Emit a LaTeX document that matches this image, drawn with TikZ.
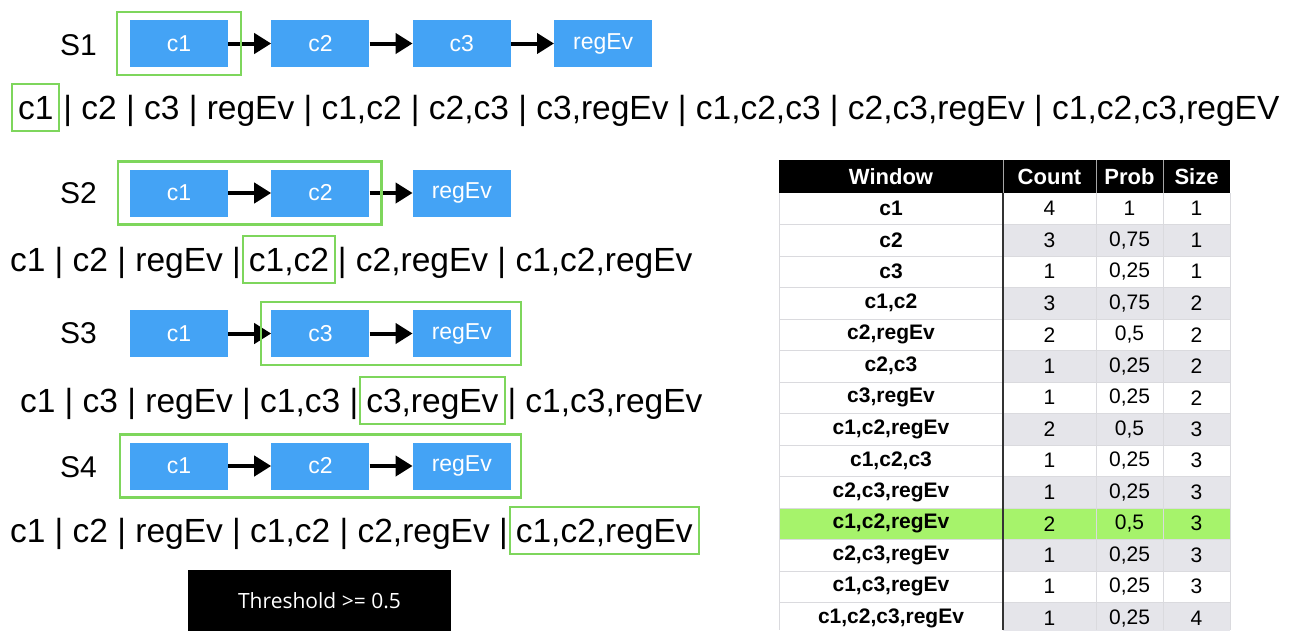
\documentclass[tikz,border=0pt]{standalone}
\usepackage{fontspec}
\setmainfont{Liberation Sans}
\newfontfamily\thrfont{Open Sans}
\usetikzlibrary{positioning,fit,arrows.meta}

\definecolor{evblue}{RGB}{68,163,245}
\definecolor{wingreen}{RGB}{126,214,92}
\definecolor{hitgreen}{RGB}{166,243,107}
\definecolor{rowgray}{RGB}{229,229,234}
\definecolor{gridgray}{RGB}{218,218,222}

\tikzset{
  evbox/.style={fill=evblue, text=white, minimum width=98pt, minimum height=47pt,
    inner sep=0pt, font=\fontsize{23}{27}\selectfont},
  nextev/.style={-{Triangle[length=17pt,width=20pt]}, line width=4pt},
  winframe/.style={draw=wingreen, line width=2.5pt, inner xsep=10pt, inner ysep=8pt},
  seqname/.style={font=\fontsize{30}{34}\selectfont, anchor=west, inner sep=0pt},
  wintext/.style={font=\fontsize{33.5}{40}\selectfont, inner sep=0pt, outer sep=0pt,
    text height=24pt, text depth=0pt},
  winhl/.style={wintext, draw=wingreen, line width=2pt, inner xsep=6pt, inner ysep=11.5pt},
  headcell/.style={text=white, font=\fontsize{22}{26}\selectfont\bfseries},
  cell/.style={font=\fontsize{21}{25}\selectfont}
}

\begin{document}
\begin{tikzpicture}[x=1pt, y=-1pt]
  \useasboundingbox (0,0) rectangle (1296,630);

  % sequence S1
  \node[seqname] (s1) at (60,45) {S1};
  \node[evbox] (s1c1) at (179,43.5) {c1};
  \node[evbox, right=43pt of s1c1] (s1c2) {c2};
  \node[evbox, right=43pt of s1c2] (s1c3) {c3};
  \node[evbox, right=43pt of s1c3] (s1ev) {regEv};
  \draw[nextev] (s1c1) -- (s1c2);
  \draw[nextev] (s1c2) -- (s1c3);
  \draw[nextev] (s1c3) -- (s1ev);
  \node[winframe, inner xsep=13pt, fit=(s1c1)] (s1w) {};

  \node[winhl, anchor=west] (r1a) at (12,107.5) {c1};
  \node[wintext, right=4pt of r1a] (r1b) {| c2 | c3 | regEv | c1,c2 | c2,c3 | c3,regEv | c1,c2,c3 | c2,c3,regEv | c1,c2,c3,regEV};

  % sequence S2
  \node[seqname] (s2) at (60,193) {S2};
  \node[evbox] (s2c1) at (179,193) {c1};
  \node[evbox, right=43pt of s2c1] (s2c2) {c2};
  \node[evbox, right=43pt of s2c2] (s2ev) {regEv};
  \draw[nextev] (s2c1) -- (s2c2);
  \draw[nextev] (s2c2) -- (s2ev);
  \node[winframe, inner xsep=12pt, fit=(s2c1)(s2c2)] (s2w) {};

  \node[wintext, anchor=west] (r2a) at (10,259.5) {c1 | c2 | regEv |};
  \node[winhl, right=2pt of r2a] (r2b) {c1,c2};
  \node[wintext, right=3pt of r2b] (r2c) {| c2,regEv | c1,c2,regEv};

  % sequence S3
  \node[seqname] (s3) at (60,333) {S3};
  \node[evbox] (s3c1) at (179,333.5) {c1};
  \node[evbox, right=43pt of s3c1] (s3c3) {c3};
  \node[evbox, right=43pt of s3c3] (s3ev) {regEv};
  \draw[nextev] (s3c1) -- (s3c3);
  \draw[nextev] (s3c3) -- (s3ev);
  \node[winframe, fit=(s3c3)(s3ev)] (s3w) {};

  \node[wintext, anchor=west] (r3a) at (20,400.5) {c1 | c3 | regEv | c1,c3 |};
  \node[winhl, right=2pt of r3a] (r3b) {c3,regEv};
  \node[wintext, right=3pt of r3b] (r3c) {| c1,c3,regEv};

  % sequence S4
  \node[seqname] (s4) at (60,467) {S4};
  \node[evbox] (s4c1) at (179,466) {c1};
  \node[evbox, right=43pt of s4c1] (s4c2) {c2};
  \node[evbox, right=43pt of s4c2] (s4ev) {regEv};
  \draw[nextev] (s4c1) -- (s4c2);
  \draw[nextev] (s4c2) -- (s4ev);
  \node[winframe, fit=(s4c1)(s4ev)] (s4w) {};

  \node[wintext, anchor=west] (r4a) at (10,530.5) {c1 | c2 | regEv | c1,c2 | c2,regEv |};
  \node[winhl, right=2pt of r4a] (r4b) {c1,c2,regEv};

  % threshold
  \node[fill=black, text=white, minimum width=263pt, minimum height=62pt,
    font=\thrfont\fontsize{21}{25}\selectfont] (thr) at (319.5,601) {Threshold >= 0.5};

  % table of windows
  \fill[black] (779,160) rectangle (1230,193);
  \node[headcell] (hw) at (891,177) {Window};
  \node[headcell] (hc) at (1049.5,177) {Count};
  \node[headcell] (hp) at (1129.5,177) {Prob};
  \node[headcell] (hs) at (1196.5,177) {Size};
  \foreach \x in {1003,1096,1163}
    \draw[gray!70, line width=0.8pt] (\x,160) -- (\x,193);

  \fill[hitgreen] (779,508) rectangle (1230,539.5);
  \foreach \w/\c/\p/\s [count=\i] in {
      c1/4/1/1,
      c2/3/{0,75}/1,
      c3/1/{0,25}/1,
      {c1,c2}/3/{0,75}/2,
      {c2,regEv}/2/{0,5}/2,
      {c2,c3}/1/{0,25}/2,
      {c3,regEv}/1/{0,25}/2,
      {c1,c2,regEv}/2/{0,5}/3,
      {c1,c2,c3}/1/{0,25}/3,
      {c2,c3,regEv}/1/{0,25}/3,
      {c1,c2,regEv}/2/{0,5}/3,
      {c2,c3,regEv}/1/{0,25}/3,
      {c1,c3,regEv}/1/{0,25}/3,
      {c1,c2,c3,regEv}/1/{0,25}/4}{
    \pgfmathsetmacro{\ry}{193+(\i-0.5)*31.5}
    \ifodd\i\else
      \fill[rowgray] (1003,\ry-15.75) rectangle (1230,\ry+15.75);
    \fi
    \node[cell, font=\fontsize{21}{25}\selectfont\bfseries] (w\i) at (891,\ry) {\w};
    \node[cell] (n\i) at (1049.5,\ry) {\c};
    \node[cell] (p\i) at (1129.5,\ry) {\p};
    \node[cell] (z\i) at (1196.5,\ry) {\s};
  }
  \foreach \k in {1,...,13}
    \draw[gridgray, line width=1pt] (779,193+\k*31.5) -- (1230,193+\k*31.5);
  \foreach \x in {779,1096,1163,1230}
    \draw[gridgray, line width=1pt] (\x,193) -- (\x,630);
  \draw[black!80, line width=1.2pt] (1003,193) -- (1003,630);
\end{tikzpicture}
\end{document}
